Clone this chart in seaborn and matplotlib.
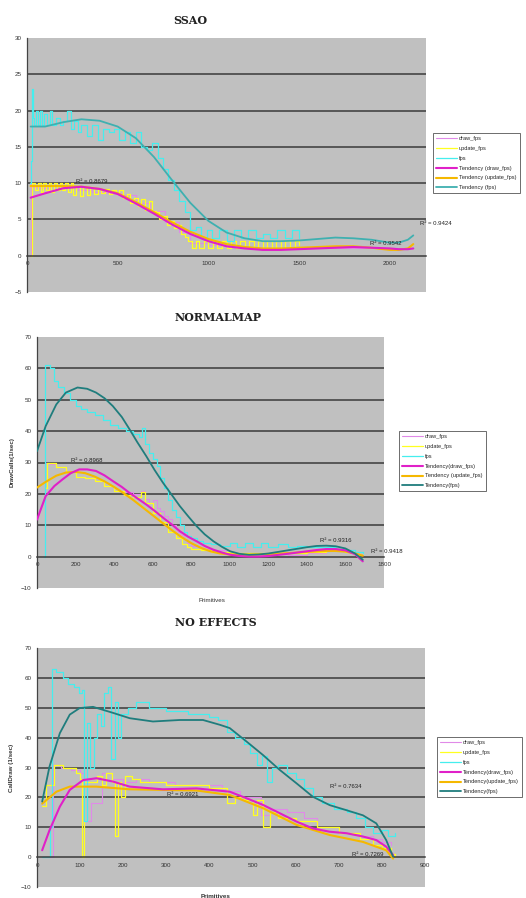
import numpy as np
import pandas as pd
import seaborn as sns
import matplotlib.pyplot as plt

# ---------------- SSAO ----------------
ssao_draw_x = [18, 20, 24, 60, 120, 200, 280, 360, 440, 520, 600, 680, 760, 840, 900, 1000, 1100, 1200, 1300, 1400, 1500, 1600, 1700, 1800, 1900, 2000, 2100, 2130]
ssao_draw_y = [0, 13, 9.5, 9.3, 9.6, 9.4, 9.0, 8.8, 8.6, 8.3, 7.2, 6.2, 4.6, 3.2, 1.8, 1.5, 1.2, 1.1, 1.0, 1.0, 1.0, 1.0, 1.1, 1.0, 1.0, 0.9, 1.0, 1.0]
ssao_upd_x = [20, 30, 45, 60, 75, 90, 105, 120, 135, 150, 165, 180, 195, 210, 225, 240, 255, 270, 290, 310,
              330, 350, 370, 390, 410, 430, 450, 470, 490, 510, 530, 550, 570, 590, 610, 630, 650, 670, 690, 710,
              730, 750, 770, 790, 810, 830, 850, 870, 890, 910, 930, 950, 975, 1000, 1025, 1050, 1075, 1100, 1125, 1150,
              1175, 1200, 1225, 1250, 1275, 1300, 1325, 1350, 1375, 1400, 1425, 1450, 1475, 1500]
ssao_upd_y = [0, 10, 9, 10, 8.8, 10, 9, 10, 8.8, 10, 9, 10, 9, 10, 8.8, 10, 8.3, 9.5, 8.2, 9.6,
              8.4, 9.5, 8.5, 9.2, 8.6, 9.2, 8.5, 9.0, 8.7, 9.0, 8.0, 8.5, 7.2, 8.0, 6.8, 7.8, 6.3, 7.6, 6.2, 6.0,
              5.0, 5.5, 4.2, 4.8, 3.8, 4.2, 3.0, 2.6, 2.0, 1.0, 2.0, 1.0, 2.0, 1.0, 2.0, 1.0, 2.0, 1.0, 2.0, 1.0,
              2.0, 1.0, 2.0, 1.0, 2.0, 1.0, 2.0, 1.0, 2.0, 1.0, 2.0, 1.0, 2.0, 1.5]
ssao_fps_x = [18, 22, 28, 34, 40, 50, 60, 70, 80, 95, 110, 125, 140, 160, 180, 200, 220, 240, 260, 280,
              300, 330, 360, 390, 420, 450, 480, 510, 540, 570, 600, 630, 660, 690, 720, 750, 780, 810, 840, 870,
              900, 930, 960, 990, 1020, 1060, 1100, 1140, 1180, 1220, 1260, 1300, 1340, 1380, 1420, 1460, 1500]
ssao_fps_y = [10, 13, 23, 19, 18, 20, 18, 20, 18, 19.5, 18, 20, 18, 19, 18, 18.5, 20, 17.5, 18.5, 17,
              18, 16.5, 18, 16, 17.5, 17, 17.5, 16, 17, 15.5, 17, 15, 14.5, 15.5, 13.5, 12, 10.5, 9, 7.5, 6,
              3.5, 4, 2.5, 3.5, 2.5, 3.5, 2, 3.5, 2.5, 3.5, 2.5, 3, 2.5, 3.5, 2.5, 3.5, 2.5]
ssao_trend_x = [20, 100, 200, 300, 400, 500, 600, 700, 800, 900, 1000, 1100, 1200, 1300, 1400, 1500, 1600, 1700, 1800, 1900, 2000, 2050, 2100, 2130]
ssao_trend_draw = [8.0, 8.6, 9.3, 9.5, 9.2, 8.5, 7.2, 5.8, 4.3, 3.0, 2.0, 1.3, 1.0, 0.8, 0.8, 0.9, 1.0, 1.1, 1.2, 1.1, 1.0, 0.9, 0.9, 1.0]
ssao_trend_upd = [9.6, 9.6, 9.6, 9.5, 9.2, 8.6, 7.4, 6.0, 4.6, 3.3, 2.3, 1.6, 1.2, 1.0, 1.0, 1.1, 1.2, 1.3, 1.3, 1.1, 0.8, 0.8, 1.0, 1.6]
ssao_trend_fps = [17.8, 17.8, 18.4, 18.8, 18.6, 17.8, 16.2, 13.6, 10.4, 7.3, 4.8, 3.2, 2.4, 2.0, 2.0, 2.1, 2.3, 2.5, 2.4, 2.2, 1.8, 1.8, 2.2, 2.8]
ssao_r2 = [(270, 10.2, "R² = 0.8679"), (2166, 4.4, "R² = 0.9424"), (1890, 1.7, "R² = 0.9542")]

# ---------------- NormalMap ----------------
nm_draw_x = [40, 42, 60, 100, 150, 200, 250, 300, 350, 400, 450, 500, 540, 560, 580, 600, 620, 640, 660, 680,
             700, 720, 740, 760, 780, 800, 850, 900, 1000, 1100, 1200, 1300, 1400, 1500, 1600, 1650]
nm_draw_y = [0, 30, 29.5, 28.5, 27, 25.5, 25, 24, 22.5, 21, 20.5, 20, 21, 18.5, 17, 18, 15.5, 14.5, 13, 12,
             10, 8, 7, 5.5, 4.5, 3.5, 2.5, 2, 1, 0.5, 0, 0.5, 1, 2, 1.5, 0.5]
nm_upd_x = [40, 50, 100, 150, 200, 250, 300, 350, 400, 450, 500, 540, 560, 600, 640, 680, 720, 750, 780, 800,
            850, 900, 1000, 1100, 1200, 1300, 1400, 1500, 1600, 1650]
nm_upd_y = [22, 30, 28.5, 27, 25.5, 25, 24, 22.5, 21, 19.5, 19, 20.5, 17, 14, 11, 8, 6, 4, 3, 2.5,
            2, 1.5, 1.2, 1, 1, 1, 1.5, 2, 1.5, 1]
nm_fps_x = [35, 40, 70, 90, 110, 140, 170, 200, 230, 260, 300, 340, 380, 420, 460, 500, 530, 545, 560, 580,
            600, 620, 640, 660, 680, 700, 720, 740, 760, 780, 800, 830, 860, 900, 950, 1000, 1040, 1080, 1120, 1160,
            1200, 1250, 1300, 1350, 1400, 1450, 1500, 1550, 1600, 1650, 1690]
nm_fps_y = [0, 61, 60, 56, 54, 52, 50, 48, 47, 46, 45, 43.5, 42, 41, 40, 39, 38, 41, 36, 33,
            31, 29, 25, 22, 18, 15, 12.5, 10, 8, 6.5, 6, 5, 4.5, 4, 3.5, 4.5, 3, 4.5, 3, 4.5,
            3, 4, 3, 3.5, 3, 3, 3, 2.5, 2, 1.5, 1]
nm_tdraw_x = [0, 45, 90, 132, 175, 219, 260, 306, 350, 393, 440, 480, 520, 567, 610, 654, 700, 741, 785, 828,
              870, 915, 960, 1002, 1050, 1100, 1150, 1200, 1300, 1400, 1450, 1500, 1550, 1600, 1650, 1690]
nm_tdraw_y = [11.8, 19.3, 22.5, 24.6, 26.6, 27.8, 27.8, 27.3, 25.9, 24.1, 22.2, 20.3, 18.6, 16.6, 14.6, 12.4, 10.2, 8.1, 6.3, 4.9,
              3.4, 2.2, 1.3, 0.6, 0.2, 0.0, 0.0, 0.2, 0.9, 1.7, 2.1, 2.4, 2.4, 2.0, 0.8, -1.5]
nm_tupd_x = [0, 50, 100, 150, 200, 250, 300, 350, 400, 450, 500, 550, 600, 650, 700, 750, 800, 850, 900, 950,
             1000, 1050, 1100, 1200, 1300, 1400, 1500, 1550, 1600, 1650, 1690]
nm_tupd_y = [22, 24, 25.8, 26.8, 27.0, 26.6, 25.5, 24.0, 22.2, 20.2, 18.0, 15.6, 13.2, 10.8, 8.4, 6.2, 4.3, 2.8, 1.7, 1.0,
             0.7, 0.6, 0.6, 0.8, 1.1, 1.5, 1.8, 1.8, 1.6, 1.0, 0.3]
nm_tfps_x = [0, 45, 100, 150, 210, 260, 306, 350, 393, 440, 480, 520, 567, 610, 654, 700, 741, 785, 828, 870,
             915, 960, 1002, 1050, 1100, 1150, 1200, 1300, 1400, 1450, 1500, 1550, 1600, 1650, 1690]
nm_tfps_y = [33.6, 41.6, 48.5, 52.3, 53.9, 53.5, 52.3, 50.5, 48.0, 44.5, 40.6, 36.5, 32.0, 27.6, 23.5, 19.6, 16.1, 12.8, 9.7, 7.1,
             4.9, 3.1, 1.7, 0.9, 0.6, 0.7, 1.0, 2.0, 3.0, 3.4, 3.5, 3.3, 2.6, 1.0, -1.0]
nm_r2 = [(178, 30.7, "R² = 0.8968"), (1467, 5.1, "R² = 0.9316"), (1734, 1.6, "R² = 0.9418")]

# ---------------- No effects ----------------
ne_draw_x = [25, 38, 55, 80, 100, 110, 125, 150, 175, 200, 230, 260, 320, 430, 470, 520, 540, 580, 620, 650, 700, 750, 780, 800, 820]
ne_draw_y = [0, 31, 30, 29, 28, 12, 18, 28, 26, 25, 26, 25, 24, 22, 20, 14, 16, 15, 13, 10, 8, 7, 6, 5, 4]
ne_upd_x = [12, 20, 40, 60, 90, 100, 104, 110, 140, 150, 160, 175, 180, 188, 196, 205, 220, 240, 300, 400,
            440, 460, 480, 500, 510, 525, 540, 560, 600, 650, 700, 750, 780, 800, 820, 830]
ne_upd_y = [17, 24, 31, 30, 28, 26, 0, 25, 27, 24, 28, 25, 7, 25, 20, 27, 26, 25, 24, 23,
            18, 20, 19, 14, 19, 10, 15, 13, 12, 10, 8, 6, 4, 3, 1, 0]
ne_fps_x = [12, 30, 35, 45, 60, 72, 85, 98, 104, 108, 116, 124, 132, 140, 148, 156, 164, 172, 180, 188,
            196, 210, 230, 260, 300, 350, 400, 420, 440, 460, 480, 495, 510, 522, 534, 546, 560, 580, 600, 620,
            640, 660, 690, 720, 740, 760, 780, 800, 815, 830]
ne_fps_y = [0, 10, 63, 62, 60, 58, 57, 55, 56, 12, 45, 30, 40, 48, 44, 55, 57, 33, 52, 40,
            48, 50, 52, 50, 49, 48, 47, 46, 42, 40, 38, 35, 31, 34, 25, 30, 31, 28, 26, 23,
            20, 18, 16, 15, 13, 10, 8, 9, 7, 8]
ne_tdraw_x = [12, 29, 53, 76, 107, 138, 176, 215, 292, 370, 447, 486, 524, 563, 602, 640, 679, 718, 756, 787, 810, 826]
ne_tdraw_y = [2.3, 9.0, 16.9, 22.5, 25.8, 26.4, 25.3, 23.6, 22.7, 23.0, 21.9, 19.7, 17.5, 14.7, 11.9, 9.6, 8.5, 8.0, 6.9, 5.7, 3.5, 0.7]
ne_tupd_x = [12, 45, 76, 138, 215, 292, 370, 447, 524, 602, 679, 756, 810, 826]
ne_tupd_y = [17.9, 21.9, 23.6, 23.6, 22.7, 22.5, 22.3, 20.8, 16.4, 10.8, 7.4, 5.1, 2.3, -0.5]
ne_tfps_x = [12, 29, 53, 76, 99, 130, 176, 215, 269, 331, 385, 424, 447, 486, 524, 563, 602, 640, 679, 718, 756, 787, 810, 826]
ne_tfps_y = [18.6, 30.3, 41.5, 47.7, 49.9, 50.3, 48.3, 46.5, 45.4, 45.9, 45.9, 44.3, 43.2, 38.7, 34.2, 29.2, 24.7, 20.2, 17.4, 15.7, 14.0, 11.3, 5.7, 0.1]
ne_r2 = [(301, 21.0, "R² = 0.6921"), (679, 23.6, "R² = 0.7634"), (730, 0.9, "R² = 0.7269")]

labels_1 = ["draw_fps", "update_fps", "fps", "Tendency (draw_fps)", "Tendency (update_fps)", "Tendency (fps)"]
labels_2 = ["draw_fps", "update_fps", "fps", "Tendency(draw_fps)", "Tendency (update_fps)", "Tendency(fps)"]
labels_3 = ["draw_fps", "update_fps", "fps", "Tendency(draw_fps)", "Tendency(update_fps)", "Tendency(fps)"]

C_DRAW = "#e08ae8"
C_UPD = "#ffff20"
C_FPS = "#45eeee"
C_TDRAW = "#e020c8"
C_TUPD = "#f5b800"

sns.set_theme(style="white")
plt.rcParams['font.family'] = ['Liberation Sans', 'DejaVu Sans']

W, H = 526, 898
fig = plt.figure(figsize=(W / 100, H / 100), dpi=100)
fig.patch.set_facecolor("white")


def panel(box, xmax, xstep, ylim, ystep, raw, trends, labels, tfps_color, r2, leg_box, ylabel=None):
    l, t, r, b = box
    ax = fig.add_axes([l / W, 1 - b / H, (r - l) / W, (b - t) / H])
    ax.set_facecolor("#c0c0c0")
    (dx, dy), (ux, uy), (fx, fy) = raw
    sns.lineplot(x=dx, y=dy, ax=ax, color=C_DRAW, lw=0.8, estimator=None, sort=False,
                 drawstyle="steps-post", label=labels[0], zorder=2)
    sns.lineplot(x=ux, y=uy, ax=ax, color=C_UPD, lw=0.9, estimator=None, sort=False,
                 drawstyle="steps-post", label=labels[1], zorder=2.1)
    sns.lineplot(x=fx, y=fy, ax=ax, color=C_FPS, lw=0.9, estimator=None, sort=False,
                 drawstyle="steps-post", label=labels[2], zorder=2.2)
    (tdx, tdy), (tux, tuy), (tfx, tfy) = trends
    sns.lineplot(x=tdx, y=tdy, ax=ax, color=C_TDRAW, lw=1.5, estimator=None, sort=False,
                 label=labels[3], zorder=3.2)
    sns.lineplot(x=tux, y=tuy, ax=ax, color=C_TUPD, lw=1.5, estimator=None, sort=False,
                 label=labels[4], zorder=3.1)
    sns.lineplot(x=tfx, y=tfy, ax=ax, color=tfps_color, lw=1.3, estimator=None, sort=False,
                 label=labels[5], zorder=3.3)

    ax.set_xlim(0, xmax)
    ax.set_ylim(*ylim)
    yt = np.arange(ylim[0], ylim[1] + 0.1, ystep)
    ax.set_yticks(yt)
    ax.set_xticks(np.arange(0, xmax + 1, xstep) if xmax % xstep == 0 else np.arange(0, xmax, xstep))
    for v in yt:
        if ylim[0] < v < ylim[1] and v != 0:
            ax.axhline(v, color="#3a3a3a", lw=1.1, zorder=1)
    ax.spines["bottom"].set_position(("data", 0))
    ax.spines["bottom"].set_color("#3a3a3a")
    ax.spines["bottom"].set_linewidth(1.1)
    ax.spines["left"].set_color("#444444")
    ax.spines["left"].set_linewidth(0.9)
    ax.spines["top"].set_visible(False)
    ax.spines["right"].set_visible(False)
    ax.tick_params(axis="both", labelsize=4.5, colors="#333333", length=2, width=0.6,
                   direction="out", pad=2)
    ax.set_xlabel("")
    ax.set_ylabel("")
    for x, y, s in r2:
        ax.text(x, y, s, fontsize=4.3, color="#222222", va="center", ha="left",
                clip_on=False, zorder=5)

    handles, labs = ax.get_legend_handles_labels()
    ax.get_legend().remove()
    lx, ly = leg_box
    leg = fig.legend(handles, labs, loc="upper left", bbox_to_anchor=(lx / W, 1 - ly / H),
                     fontsize=4.1, frameon=True, fancybox=False, edgecolor="#555555",
                     framealpha=1, handlelength=3.6, labelspacing=0.85, borderpad=0.55,
                     handletextpad=0.4, borderaxespad=0)
    leg.get_frame().set_linewidth(0.6)
    if ylabel:
        fig.text(12 / W, 1 - ((t + b) / 2) / H, ylabel, rotation=90, fontsize=4.5,
                 fontweight="bold", color="#333333", ha="center", va="center")
    return ax


title_kw = dict(fontsize=8, fontweight="bold", family="DejaVu Serif", color="#222222",
                ha="center", va="center")

# SSAO panel
fig.text(190 / W, 1 - 20 / H, "SSAO", **title_kw)
panel((27, 38, 426, 292), 2200, 500, (-5, 30), 5,
      [(ssao_draw_x, ssao_draw_y), (ssao_upd_x, ssao_upd_y), (ssao_fps_x, ssao_fps_y)],
      [(ssao_trend_x, ssao_trend_draw), (ssao_trend_x, ssao_trend_upd), (ssao_trend_x, ssao_trend_fps)],
      labels_1, "#3fb0b0", ssao_r2, (433, 133))

# NormalMap panel
fig.text(218 / W, 1 - 318 / H, "NORMALMAP", **title_kw)
panel((37, 337, 384, 588), 1800, 200, (-10, 70), 10,
      [(nm_draw_x, nm_draw_y), (nm_upd_x, nm_upd_y), (nm_fps_x, nm_fps_y)],
      [(nm_tdraw_x, nm_tdraw_y), (nm_tupd_x, nm_tupd_y), (nm_tfps_x, nm_tfps_y)],
      labels_2, "#1f7d7d", nm_r2, (399, 431), ylabel="DrawCalls(1/sec)")
fig.text(212 / W, 1 - 600 / H, "Primitives", fontsize=4.5, color="#333333", ha="center", va="center")

# No effects panel
fig.text(216 / W, 1 - 623 / H, "NO EFFECTS", **title_kw)
panel((37, 648, 425, 887), 900, 100, (-10, 70), 10,
      [(ne_draw_x, ne_draw_y), (ne_upd_x, ne_upd_y), (ne_fps_x, ne_fps_y)],
      [(ne_tdraw_x, ne_tdraw_y), (ne_tupd_x, ne_tupd_y), (ne_tfps_x, ne_tfps_y)],
      labels_3, "#1f7d7d", ne_r2, (437, 737), ylabel="CallDraw (1/sec)")
fig.text(216 / W, 1 - 896 / H, "Primitives", fontsize=4.5, fontweight="bold", color="#333333",
         ha="center", va="center")

fig.savefig("out.png", dpi=100, facecolor="white")
